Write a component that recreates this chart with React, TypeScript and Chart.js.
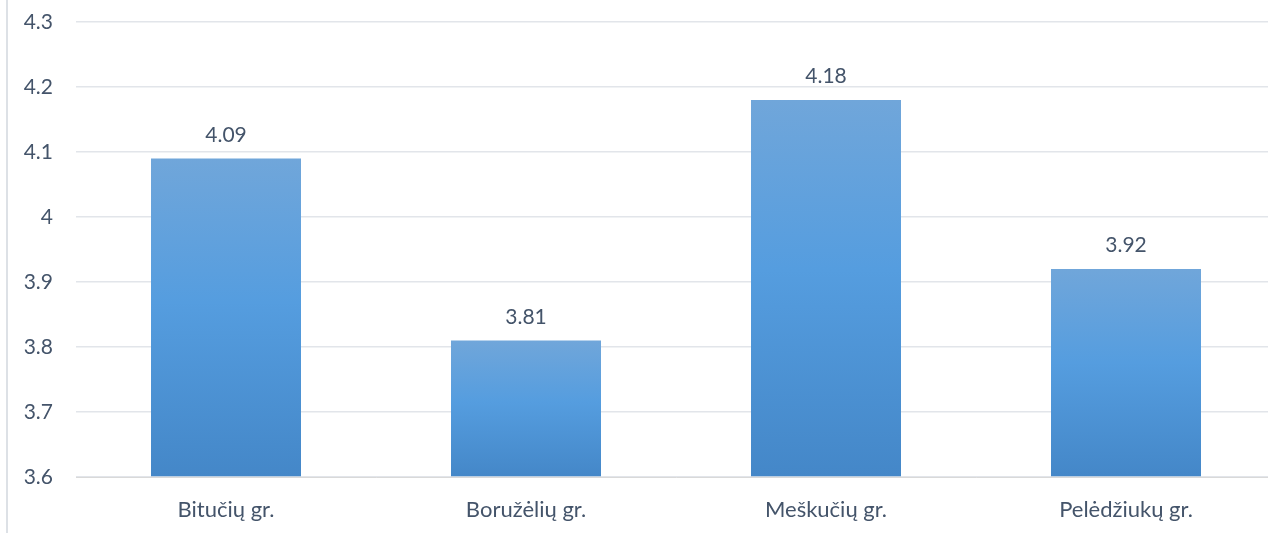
import React, { useEffect, useRef } from "react";
import { Chart, registerables } from "chart.js";

Chart.register(...registerables);

const categories = ["Bitučių gr.", "Boružėlių gr.", "Meškučių gr.", "Pelėdžiukų gr."];
const values = [4.09, 3.81, 4.18, 3.92];
const yMin = 3.6;
const yMax = 4.3;
const yStep = 0.1;

const TEXT = "#44546a";
const FONT = "Lato";
const FS = 21;

export default function App() {
  const ref = useRef<HTMLCanvasElement | null>(null);

  useEffect(() => {
    document.body.style.margin = "0";
    const canvas = ref.current!;
    const borderPlugin = {
      id: "leftBorder",
      beforeDraw(chart: any) {
        const ctx = chart.ctx;
        ctx.save();
        ctx.fillStyle = "#dde1e6";
        ctx.fillRect(6, 0, 2, chart.height);
        ctx.restore();
      },
    };
    const labelPlugin = {
      id: "valueLabels",
      afterDatasetsDraw(chart: any) {
        const ctx = chart.ctx;
        const meta = chart.getDatasetMeta(0);
        ctx.save();
        ctx.fillStyle = TEXT;
        ctx.font = `${FS}px ${FONT}`;
        ctx.textAlign = "center";
        ctx.textBaseline = "alphabetic";
        meta.data.forEach((el: any, i: number) => {
          ctx.fillText(values[i].toFixed(2), el.x, el.y - 17);
        });
        ctx.restore();
      },
    };
    const chart = new Chart(canvas, {
      type: "bar",
      data: {
        labels: categories,
        datasets: [
          {
            data: values,
            base: yMin,
            barPercentage: 0.5,
            categoryPercentage: 1,
            borderWidth: 0,
            backgroundColor: (c: any) => {
              const ch = c.chart;
              const area = ch.chartArea;
              if (!area || c.dataIndex === undefined) return "#5b9bd5";
              const top = ch.scales.y.getPixelForValue(values[c.dataIndex]);
              const g = ch.ctx.createLinearGradient(0, top, 0, area.bottom);
              g.addColorStop(0, "#70a6da");
              g.addColorStop(0.45, "#559ddf");
              g.addColorStop(1, "#4487c8");
              return g;
            },
          },
        ],
      },
      options: {
        animation: false,
        responsive: false,
        maintainAspectRatio: false,
        layout: { autoPadding: false, padding: { top: 22, left: 0, right: 0, bottom: 0 } },
        plugins: { legend: { display: false }, tooltip: { enabled: false } },
        scales: {
          x: {
            grid: { display: false, drawTicks: false },
            border: { display: true, color: "#d9d9d9", width: 1 },
            ticks: { color: TEXT, font: { family: FONT, size: 22 }, padding: 20, maxRotation: 0 },
            afterFit: (s: any) => {
              s.height = 56;
            },
          },
          y: {
            min: yMin,
            max: yMax,
            grid: { color: "#e2e5ea", lineWidth: 1.5, drawTicks: true, tickLength: 23, tickColor: "rgba(0,0,0,0)" },
            border: { display: false },
            ticks: {
              stepSize: yStep,
              color: TEXT,
              font: { family: FONT, size: FS },
              padding: 0,
              callback: (v: any) => String(Math.round(Number(v) * 10) / 10),
            },
            afterFit: (s: any) => {
              s.width = 76;
            },
          },
        },
      },
      plugins: [borderPlugin, labelPlugin],
    });
    return () => chart.destroy();
  }, []);

  return (
    <div style={{ width: 1268, height: 533, overflow: "hidden", position: "relative" }}>
      <canvas ref={ref} width={1276} height={533} style={{ display: "block" }} />
    </div>
  );
}
